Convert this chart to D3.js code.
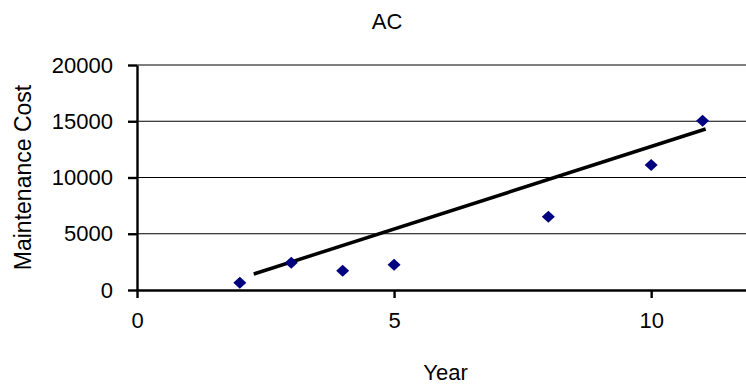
<!DOCTYPE html>
<html lang="en">

<head>
    <script src='https://d3js.org/d3.v7.min.js'></script>
    <style>
        body { margin: 0; background: #fff; }
        text { font-family: "Liberation Sans", Arial, sans-serif; fill: #000; }
    </style>
</head>

<body>

    <script>
        // AC maintenance cost by year
        const years = [2, 3, 4, 5, 8, 10, 11];
        const costs = [650, 2430, 1720, 2250, 6520, 11110, 15050];

        // trend line end points
        const trendYears = [2.27, 11.06];
        const trendCosts = [1420, 14310];

        const xTicks = [0, 5, 10];
        const yTicks = [0, 5000, 10000, 15000, 20000];

        const width = 746, height = 386;

        const svg = d3.select("body").append("svg")
            .attr("width", width)
            .attr("height", height);

        const x = d3.scaleLinear().domain([0, 12]).range([137, 754]);
        const y = d3.scaleLinear().domain([0, 20000]).range([290, 65]);

        // gridlines
        svg.append("g")
            .selectAll("line")
            .data(yTicks.filter(d => d > 0))
            .enter()
            .append("line")
            .attr("x1", x(0))
            .attr("x2", x(12))
            .attr("y1", d => y(d))
            .attr("y2", d => y(d))
            .attr("stroke", "#000")
            .attr("stroke-width", 1.2);

        // y axis
        const yAxis = svg.append("g")
            .attr("transform", `translate(${x(0)},0)`)
            .call(d3.axisLeft(y).tickValues(yTicks).tickSize(9).tickSizeOuter(0).tickPadding(15).tickFormat(d3.format("d")));

        // x axis
        const xAxis = svg.append("g")
            .attr("transform", `translate(0,${y(0)})`)
            .call(d3.axisBottom(x).tickValues(xTicks).tickSize(8).tickSizeOuter(0).tickPadding(14));

        [yAxis, xAxis].forEach(g => {
            g.select(".domain").attr("stroke", "#000").attr("stroke-width", 2.4);
            g.selectAll(".tick line").attr("stroke", "#000").attr("stroke-width", 2.4);
            g.selectAll(".tick text")
                .style("font-family", '"Liberation Sans", Arial, sans-serif')
                .style("font-size", "22px")
                .attr("fill", "#000");
        });

        // trend line
        const trend = trendYears.map((d, i) => [d, trendCosts[i]]);
        svg.append("path")
            .datum(trend)
            .attr("fill", "none")
            .attr("stroke", "#000")
            .attr("stroke-width", 3.5)
            .attr("d", d3.line().x(d => x(d[0])).y(d => y(d[1])));

        // points
        const diamond = "M0,-6L6.5,0L0,6L-6.5,0Z";
        svg.append("g")
            .selectAll("path")
            .data(years)
            .enter()
            .append("path")
            .attr("d", diamond)
            .attr("transform", (d, i) => `translate(${x(d)},${y(costs[i])})`)
            .attr("fill", "#000080");

        // titles
        svg.append("text")
            .attr("x", 387)
            .attr("y", 29)
            .attr("text-anchor", "middle")
            .style("font-size", "22px")
            .text("AC");

        svg.append("text")
            .attr("x", (x(0) + x(12)) / 2)
            .attr("y", 380)
            .attr("text-anchor", "middle")
            .style("font-size", "22px")
            .text("Year");

        svg.append("text")
            .attr("transform", `translate(31,${(y(0) + y(20000)) / 2}) rotate(-90)`)
            .attr("text-anchor", "middle")
            .style("font-size", "23px")
            .text("Maintenance Cost");
    </script>

</body>

</html>
